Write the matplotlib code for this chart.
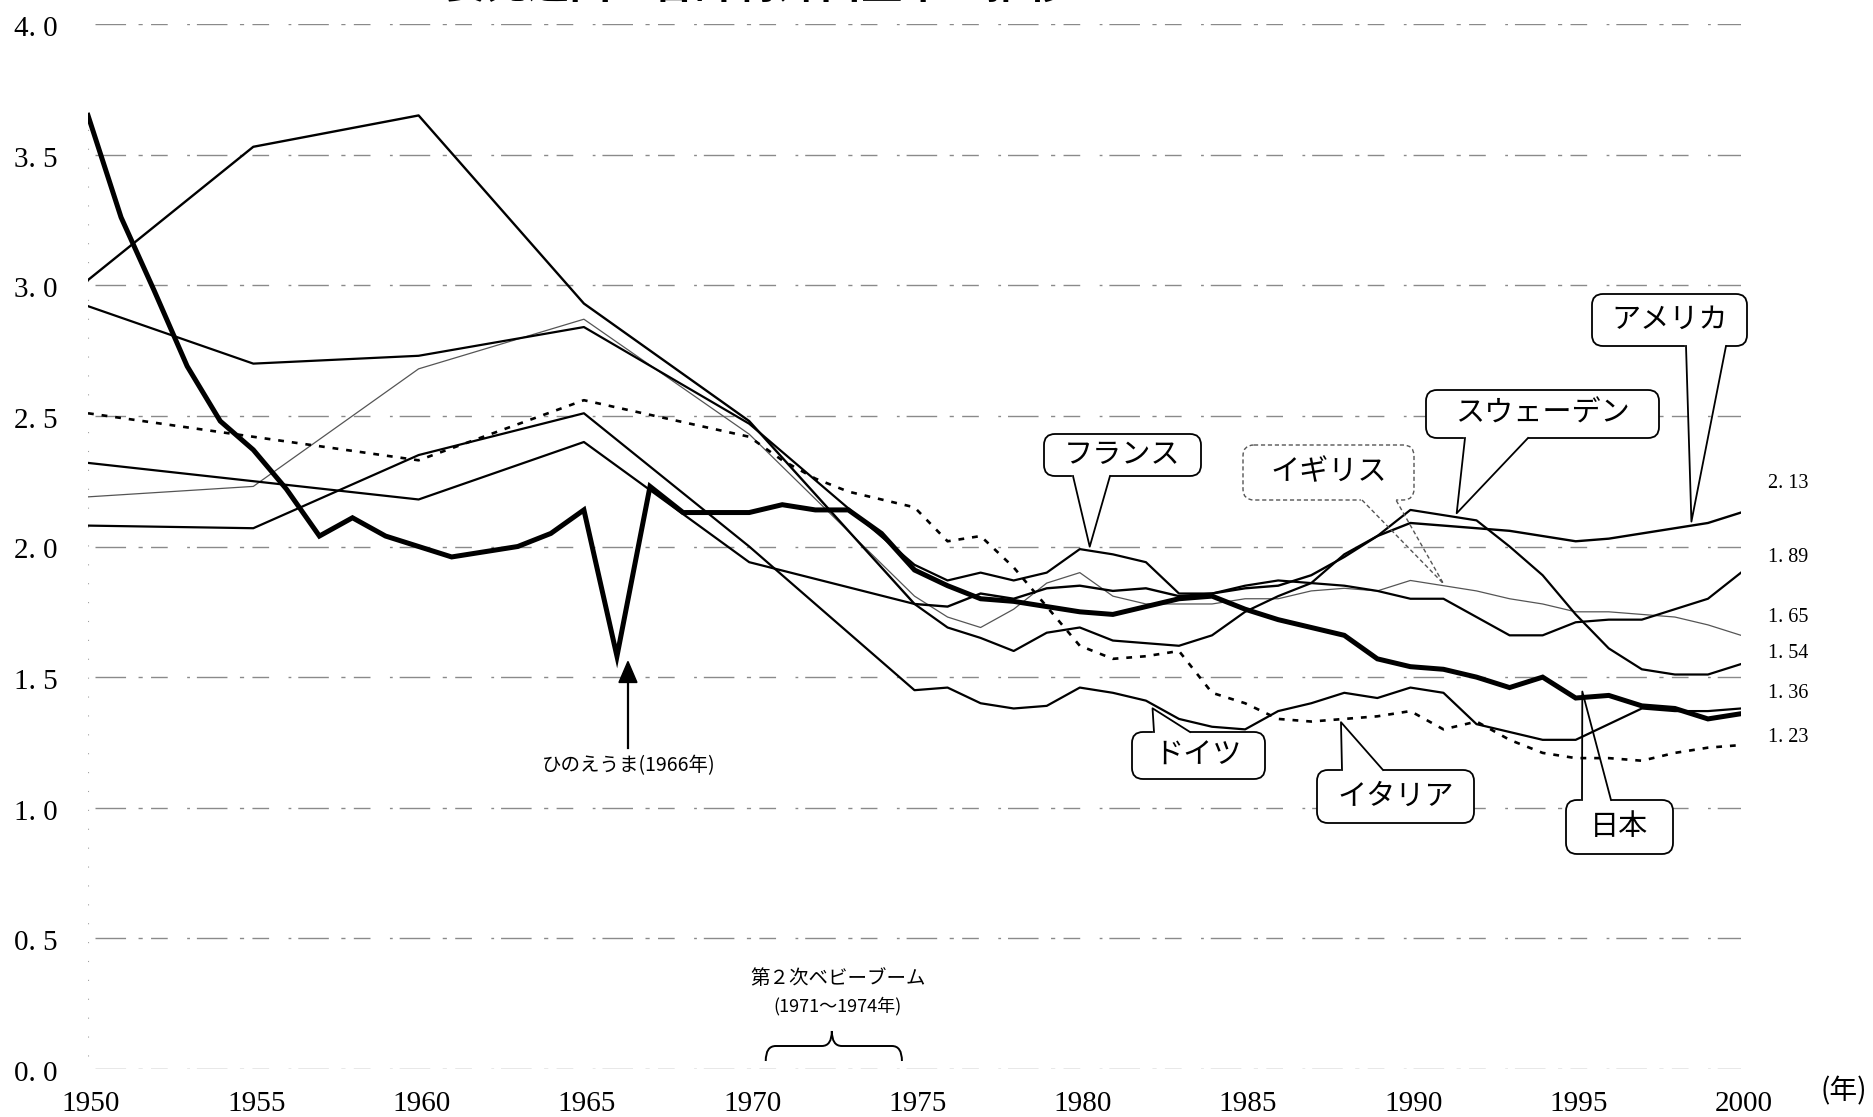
import numpy as np
import matplotlib
matplotlib.use("Agg")
import matplotlib.pyplot as plt
from matplotlib.patches import FancyBboxPatch, Polygon, PathPatch
from matplotlib.path import Path

W, H, DPI = 1874, 1117, 100

# ---------------- data ----------------
japan_years = list(range(1950, 2001))
japan = [3.65, 3.26, 2.98, 2.69, 2.48, 2.37, 2.22, 2.04, 2.11, 2.04,
         2.00, 1.96, 1.98, 2.00, 2.05, 2.14, 1.58, 2.23, 2.13, 2.13,
         2.13, 2.16, 2.14, 2.14, 2.05, 1.91, 1.85, 1.80, 1.79, 1.77,
         1.75, 1.74, 1.77, 1.80, 1.81, 1.76, 1.72, 1.69, 1.66, 1.57,
         1.54, 1.53, 1.50, 1.46, 1.50, 1.42, 1.43, 1.39, 1.38, 1.34, 1.36]

other_years = [1950, 1955, 1960, 1965, 1970, 1975] + list(range(1976, 2001))
usa = [3.02, 3.53, 3.65, 2.93, 2.48, 1.78,
       1.77, 1.82, 1.80, 1.84, 1.85, 1.83, 1.84, 1.81, 1.82,
       1.84, 1.85, 1.89, 1.96, 2.04, 2.09, 2.08, 2.07, 2.06, 2.04,
       2.02, 2.03, 2.05, 2.07, 2.09, 2.13]
france = [2.92, 2.70, 2.73, 2.84, 2.47, 1.93,
          1.87, 1.90, 1.87, 1.90, 1.99, 1.97, 1.94, 1.82, 1.82,
          1.85, 1.87, 1.86, 1.85, 1.83, 1.80, 1.80, 1.73, 1.66, 1.66,
          1.71, 1.72, 1.72, 1.76, 1.80, 1.90]
uk = [2.19, 2.23, 2.68, 2.87, 2.43, 1.81,
      1.73, 1.69, 1.76, 1.86, 1.90, 1.81, 1.78, 1.78, 1.78,
      1.80, 1.80, 1.83, 1.84, 1.83, 1.87, 1.85, 1.83, 1.80, 1.78,
      1.75, 1.75, 1.74, 1.73, 1.70, 1.66]
sweden = [2.32, 2.25, 2.18, 2.40, 1.94, 1.78,
          1.69, 1.65, 1.60, 1.67, 1.69, 1.64, 1.63, 1.62, 1.66,
          1.75, 1.81, 1.86, 1.97, 2.04, 2.14, 2.12, 2.10, 2.00, 1.89,
          1.74, 1.61, 1.53, 1.51, 1.51, 1.55]
germany = [2.08, 2.07, 2.35, 2.51, 2.00, 1.45,
           1.46, 1.40, 1.38, 1.39, 1.46, 1.44, 1.41, 1.34, 1.31,
           1.30, 1.37, 1.40, 1.44, 1.42, 1.46, 1.44, 1.32, 1.29, 1.26,
           1.26, 1.32, 1.38, 1.37, 1.37, 1.38]
italy_years = [1950, 1955, 1960, 1965, 1970, 1971, 1972, 1973, 1974, 1975] + list(range(1976, 2001))
italy = [2.51, 2.42, 2.33, 2.56, 2.42, 2.33, 2.26, 2.21, 2.18, 2.15,
         2.02, 2.04, 1.92, 1.77, 1.62, 1.57, 1.58, 1.60, 1.44,
         1.40, 1.34, 1.33, 1.34, 1.35, 1.37, 1.30, 1.33, 1.26, 1.21,
         1.19, 1.19, 1.18, 1.21, 1.23, 1.24]

x_ticks = list(range(1950, 2001, 5))
y_ticks = [0.0, 0.5, 1.0, 1.5, 2.0, 2.5, 3.0, 3.5, 4.0]
y_tick_labels = ["0. 0", "0. 5", "1. 0", "1. 5", "2. 0", "2. 5", "3. 0", "3. 5", "4. 0"]
end_labels = ["2. 13", "1. 89", "1. 65", "1. 54", "1. 36", "1. 23"]
title_text = "主要先進国の合計特殊出生率の推移"
hinoeuma_year = 1966
hinoeuma_text = "ひのえうま(1966年)"
babyboom_years = [1971, 1974]
babyboom_text = ["第２次ベビーブーム", "(1971～1974年)"]

JP = ["Noto Sans CJK JP", "DejaVu Sans"]
SERIF = ["Liberation Serif", "DejaVu Serif"]

# ---------------- figure ----------------
fig = plt.figure(figsize=(W / DPI, H / DPI), dpi=DPI)
fig.patch.set_facecolor("white")
ax = fig.add_axes([88 / W, 1 - 1069 / H, (1741 - 88) / W, (1069 - 24) / H])
ax.set_xlim(1950, 2000)
ax.set_ylim(0, 4)
ax.axis("off")

# broken gridlines (scanned look)
ax.hlines(y_ticks, 1950.2, 2000.1, colors="#8a8a8a", linewidth=1.0,
          linestyles=[(0, (22, 9, 3, 6, 12, 14, 2, 5))], zorder=1)
ax.vlines([1950], 0.05, 3.6, colors="#a0a0a0", linewidth=0.8,
          linestyles=[(0, (1, 16))], zorder=1)

# series
ax.plot(other_years, uk, color="#555555", lw=0.9, zorder=3)
ax.plot(italy_years, italy, color="black", lw=1.9, ls=(0, (2.2, 3.0)), zorder=3)
ax.plot(other_years, germany, color="black", lw=1.6, zorder=3)
ax.plot(other_years, sweden, color="black", lw=1.6, zorder=3)
ax.plot(other_years, france, color="black", lw=1.6, zorder=3)
ax.plot(other_years, usa, color="black", lw=1.7, zorder=3)
ax.plot(japan_years, japan, color="black", lw=3.6, zorder=4,
        solid_joinstyle="miter")

# overlay axes in pixel coordinates (y down)
ov = fig.add_axes([0, 0, 1, 1])
ov.set_xlim(0, W)
ov.set_ylim(H, 0)
ov.axis("off")
ov.set_zorder(5)


def d2p(x, y):
    X, Y = ax.transData.transform((x, y))
    return X, H - Y


# tick labels
for v, lab in zip(y_ticks, y_tick_labels):
    _, py = d2p(1950, v)
    ov.text(36, py + 5, lab, ha="center", va="center", fontsize=21,
            family=SERIF)
for yr in x_ticks:
    px, _ = d2p(yr, 0)
    ov.text(px + 3, 1111, str(yr), ha="center", va="baseline", fontsize=21,
            family=SERIF)
ov.text(1821, 1091, "(年)", ha="left", va="center", fontsize=20, family=JP)

# end value labels
end_label_y = [484, 558, 617, 654, 694, 738]
for lab, py in zip(end_labels, end_label_y):
    ov.text(1788, py, lab, ha="center", va="center", fontsize=14.5,
            family=SERIF)

# title (only its lower edge is visible in the scan)
ov.text(404, -1, title_text, ha="left", va="baseline", fontsize=30,
        fontweight="bold", family=JP)

# hinoeuma arrow
dip_val = japan[japan_years.index(hinoeuma_year)]
ar_x, tip_y = d2p(hinoeuma_year, dip_val - 0.02)
ar_x += 11
ov.plot([ar_x, ar_x], [tip_y + 18, 748], color="black", lw=1.6)
ov.add_patch(Polygon([[ar_x, tip_y], [ar_x - 9, tip_y + 21], [ar_x + 9, tip_y + 21]],
                     closed=True, facecolor="black", edgecolor="black"))
ov.text(ar_x + 1, 766, hinoeuma_text, ha="center", va="center", fontsize=14,
        family=JP)

# second baby boom brace
bx0, _ = d2p(babyboom_years[0] - 0.5, 0)
bx1, _ = d2p(babyboom_years[1] + 0.62, 0)
bxm = (bx0 + bx1) / 2 - 2
yb, yh, yt = 1061, 1046, 1031
verts = [(bx0, yb), (bx0, yh), (bx0 + 10, yh),
         (bxm - 10, yh), (bxm, yh), (bxm, yt),
         (bxm, yh), (bxm + 10, yh),
         (bx1 - 10, yh), (bx1, yh), (bx1, yb)]
codes = [Path.MOVETO, Path.CURVE3, Path.CURVE3,
         Path.LINETO, Path.CURVE3, Path.CURVE3,
         Path.CURVE3, Path.CURVE3,
         Path.LINETO, Path.CURVE3, Path.CURVE3]
ov.add_patch(PathPatch(Path(verts, codes), facecolor="none", edgecolor="black", lw=1.4))
ov.text(bxm + 6, 978, babyboom_text[0], ha="center", va="center", fontsize=14, family=JP)
ov.text(bxm + 6, 1006, babyboom_text[1], ha="center", va="center", fontsize=13, family=JP)


# callouts
def callout(label, box, base, tip_year, series_x, series_y, dy, style="-",
            color="black", lw=1.3):
    x0, y0, x1, y1 = box
    ov.add_patch(FancyBboxPatch((x0, y0), x1 - x0, y1 - y0,
                                boxstyle="round,pad=0,rounding_size=11",
                                facecolor="white", edgecolor=color, lw=lw,
                                ls=style, zorder=10))
    tx, ty = d2p(tip_year, float(np.interp(tip_year, series_x, series_y)))
    ty += dy
    ey = y1 if ty > y1 else y0
    ov.plot([base[0] + 1.5, base[1] - 1.5], [ey, ey], color="white", lw=3, zorder=11)
    ov.plot([base[0], tx, base[1]], [ey, ty, ey], color=color, lw=lw, ls=style,
            zorder=12)
    ov.text((x0 + x1) / 2, (y0 + y1) / 2, label, ha="center", va="center",
            fontsize=21, family=JP, zorder=13)


callout("アメリカ", (1592, 294, 1747, 346), (1686, 1726), 1998.5, other_years, usa, -4)
callout("スウェーデン", (1426, 390, 1659, 438), (1465, 1528), 1991.4, other_years, sweden, -4)
callout("フランス", (1044, 434, 1201, 476), (1073, 1110), 1980.3, other_years, france, -4)
callout("イギリス", (1243, 445, 1414, 500), (1362, 1396), 1991.0, other_years, uk, -2,
        style=(0, (3, 2)), color="#555555", lw=1.0)
callout("ドイツ", (1132, 732, 1265, 779), (1154, 1190), 1982.2, other_years, germany, 4)
callout("イタリア", (1317, 770, 1474, 823), (1342, 1383), 1987.9, italy_years, italy, 3)
callout("日本", (1566, 800, 1673, 854), (1582, 1611), 1995.2, japan_years, japan, -6)

fig.savefig("out.png", dpi=DPI, facecolor="white")
